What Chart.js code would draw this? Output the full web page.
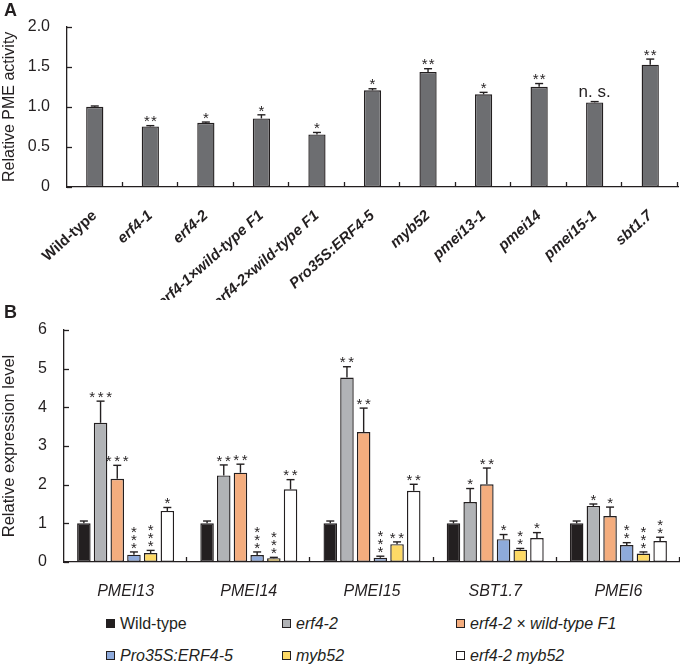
<!DOCTYPE html>
<html>
<head>
<meta charset="utf-8">
<script src="https://cdn.jsdelivr.net/npm/chart.js@4.4.1/dist/chart.umd.min.js"></script>
<style>
body{margin:0;background:#fff;font-family:"Liberation Sans",Arial,sans-serif;color:#231f20}
#wrap{position:relative;width:680px;height:665px;overflow:hidden}
canvas{position:absolute;left:0}
.letter{position:absolute;font-weight:bold;font-size:18px;left:4px}
.leg{position:absolute;font-size:16px;line-height:18px;white-space:nowrap}
.leg i.sw{display:inline-block;width:7px;height:7px;border:1.3px solid #231f20;margin-right:5px;vertical-align:1px}
.it{font-style:italic}
</style>
</head>
<body>
<div id="wrap">
 <canvas id="chartA" width="680" height="300" style="top:0"></canvas>
 <canvas id="chartB" width="680" height="305" style="top:300px"></canvas>
 <div class="letter" style="top:0px">A</div>
 <div class="letter" style="top:302px">B</div>
 <div id="legend"></div>
</div>
<script>
const ink='#231f20';
const font='"Liberation Sans", Arial, sans-serif';

// panel A: PME activity
const pmeLabels=['Wild-type','erf4-1','erf4-2','erf4-1×wild-type F1','erf4-2×wild-type F1','Pro35S:ERF4-5','myb52','pmei13-1','pmei14','pmei15-1','sbt1.7'];
const pmeValues=[1.00,0.755,0.80,0.855,0.655,1.205,1.435,1.155,1.25,1.055,1.525];
const pmeErrors=[0.01,0.01,0.01,0.045,0.025,0.02,0.04,0.025,0.04,0.01,0.07];
const pmeSig=['','**','*','*','*','*','**','*','**','n. s.','**'];
const pmeTicks=[0,0.5,1.0,1.5,2.0];

// panel B: expression
const genes=['PMEI13','PMEI14','PMEI15','SBT1.7','PMEI6'];
const lineNames=['Wild-type','erf4-2','erf4-2 × wild-type F1','Pro35S:ERF4-5','myb52','erf4-2 myb52'];
const lineColors=['#231f20','#b1b3b6','#f4ad7e','#8eaadb','#fdd966','#ffffff'];
const wildType=[1.0,1.0,1.0,1.0,1.0];
const wildTypeErr=[0.06,0.06,0.06,0.06,0.06];
const erf42=[3.6,2.24,4.77,1.55,1.45];
const erf42Err=[0.56,0.27,0.28,0.35,0.05];
const f1=[2.15,2.31,3.36,2.01,1.19];
const f1Err=[0.35,0.22,0.62,0.42,0.23];
const pro35s=[0.19,0.18,0.11,0.59,0.44];
const pro35sErr=[0.07,0.08,0.04,0.12,0.06];
const myb52=[0.23,0.10,0.46,0.32,0.22];
const myb52Err=[0.07,0.02,0.06,0.03,0.04];
const dbl=[1.32,1.88,1.84,0.62,0.54];
const dblErr=[0.09,0.25,0.17,0.14,0.10];
// 'v' = stars stacked vertically
const wildTypeSig=['','','','',''];
const erf42Sig=['***','**','**','*','*'];
const f1Sig=['***','**','**','**','*'];
const pro35sSig=['v***','v***','v***','*','v**'];
const myb52Sig=['v***','v***','**','v**','v***'];
const dblSig=['*','**','**','*','v**'];

function seg(ctx,x1,y1,x2,y2){ctx.beginPath();ctx.moveTo(x1,y1);ctx.lineTo(x2,y2);ctx.stroke();}

const decor={
 id:'decor',
 afterDatasetsDraw(chart,args,o){
  const {ctx,scales:{x,y}}=chart;
  ctx.save();
  ctx.strokeStyle=ink;ctx.fillStyle=ink;ctx.lineWidth=1.3;
  const n=x.ticks.length, step=(x.right-x.left)/n;
  for(let i=1;i<=n;i++){const px=Math.round(x.left+i*step)-0.5;seg(ctx,px,y.bottom,px,y.bottom-o.tick);}
  y.ticks.forEach(t=>{const py=Math.round(y.getPixelForValue(t.value))+0.5;seg(ctx,x.left,py,x.left+o.tick,py);});
  o.errors.forEach((errs,di)=>{
   const meta=chart.getDatasetMeta(di);
   meta.data.forEach((bar,i)=>{
    const v=chart.data.datasets[di].data[i];
    const top=y.getPixelForValue(v+errs[i]);
    ctx.lineWidth=1.4;
    seg(ctx,bar.x,bar.y,bar.x,top);
    seg(ctx,bar.x-o.cap,top,bar.x+o.cap,top);
    let s=o.sig[di][i];
    if(!s) return;
    if(s==='n. s.'){
     ctx.font='17px '+font;ctx.textAlign='center';ctx.textBaseline='alphabetic';
     ctx.fillText(s,bar.x,top-5);return;
    }
    ctx.font=o.starSize+'px '+font;ctx.textAlign='center';ctx.textBaseline='alphabetic';
    const lift=o.starSize*0.58;
    if(s[0]==='v'){
     s=s.slice(1);
     for(let k=0;k<s.length;k++) ctx.fillText('*',bar.x,top-o.starUp-k*o.vGap+lift);
    }else{
     const w=(s.length-1)*o.hGap;
     for(let k=0;k<s.length;k++) ctx.fillText('*',bar.x-w/2+k*o.hGap,top-o.starUp+lift);
    }
   });
  });
  ctx.restore();
 }
};

new Chart(document.getElementById('chartA'),{
 type:'bar',
 data:{labels:pmeLabels,datasets:[{data:pmeValues,backgroundColor:'#6d6e71',borderColor:ink,borderWidth:1.4,borderSkipped:false,barPercentage:0.31,categoryPercentage:1}]},
 options:{
  responsive:false,animation:false,
  layout:{padding:{top:25,right:2,left:0,bottom:0}},
  plugins:{legend:{display:false},tooltip:{enabled:false},
   decor:{tick:5,cap:4,errors:[pmeErrors],sig:[pmeSig],starSize:15,hGap:7,vGap:7,starUp:8}},
  scales:{
   x:{grid:{display:false},border:{color:ink,width:1.3},
    ticks:{autoSkip:false,minRotation:42,maxRotation:42,padding:12,color:ink,
     font:c=>({family:font,size:15,weight:'bold',style:c.index===0?'normal':'italic'})},
    afterFit:s=>{s.height=113;}},
   y:{min:0,max:2,grid:{display:false,drawTicks:false},border:{color:ink,width:1.3},
    afterBuildTicks:s=>{s.ticks=pmeTicks.map(v=>({value:v}));},
    ticks:{padding:17,color:ink,font:{family:font,size:16},callback:v=>v===0?'0':v.toFixed(1)},
    title:{display:true,text:'Relative PME activity',color:ink,font:{family:font,size:16},padding:{top:0,bottom:0}},
    afterFit:s=>{s.width=67;}}
  }
 },
 plugins:[decor]
});

const seriesB=[wildType,erf42,f1,pro35s,myb52,dbl];
const errB=[wildTypeErr,erf42Err,f1Err,pro35sErr,myb52Err,dblErr];
const sigB=[wildTypeSig,erf42Sig,f1Sig,pro35sSig,myb52Sig,dblSig];

new Chart(document.getElementById('chartB'),{
 type:'bar',
 data:{labels:genes,datasets:seriesB.map((d,i)=>({label:lineNames[i],data:d,backgroundColor:lineColors[i],borderColor:ink,borderWidth:1.4,borderSkipped:false,barPercentage:0.81,categoryPercentage:0.813}))},
 options:{
  responsive:false,animation:false,
  layout:{padding:{top:30,right:0,left:0,bottom:0}},
  plugins:{legend:{display:false},tooltip:{enabled:false},
   decor:{tick:5,cap:4,errors:errB,sig:sigB,starSize:15,hGap:8.5,vGap:8,starUp:8}},
  scales:{
   x:{grid:{display:false},border:{color:ink,width:1.3},
    ticks:{padding:12,color:ink,font:{family:font,size:16,style:'italic'}},
    afterFit:s=>{s.height=43;}},
   y:{min:0,max:6,grid:{display:false,drawTicks:false},border:{color:ink,width:1.3},
    ticks:{stepSize:1,padding:17,color:ink,font:{family:font,size:16}},
    title:{display:true,text:'Relative expression level',color:ink,font:{family:font,size:16.5},padding:{top:0,bottom:0}},
    afterFit:s=>{s.width=64;}}
  }
 },
 plugins:[decor]
});

// legend, laid out as in the figure (3 columns x 2 rows)
const legCols=[106,282,456], legRows=[615,647];
const legItalic=[false,true,true,true,true,true];
document.getElementById('legend').innerHTML=lineNames.map((name,i)=>{
 const c=i%3,r=Math.floor(i/3);
 return `<div class="leg${legItalic[i]?' it':''}" style="left:${legCols[c]}px;top:${legRows[r]}px"><i class="sw" style="background:${lineColors[i]}"></i>${name}</div>`;
}).join('');
</script>
</body>
</html>
